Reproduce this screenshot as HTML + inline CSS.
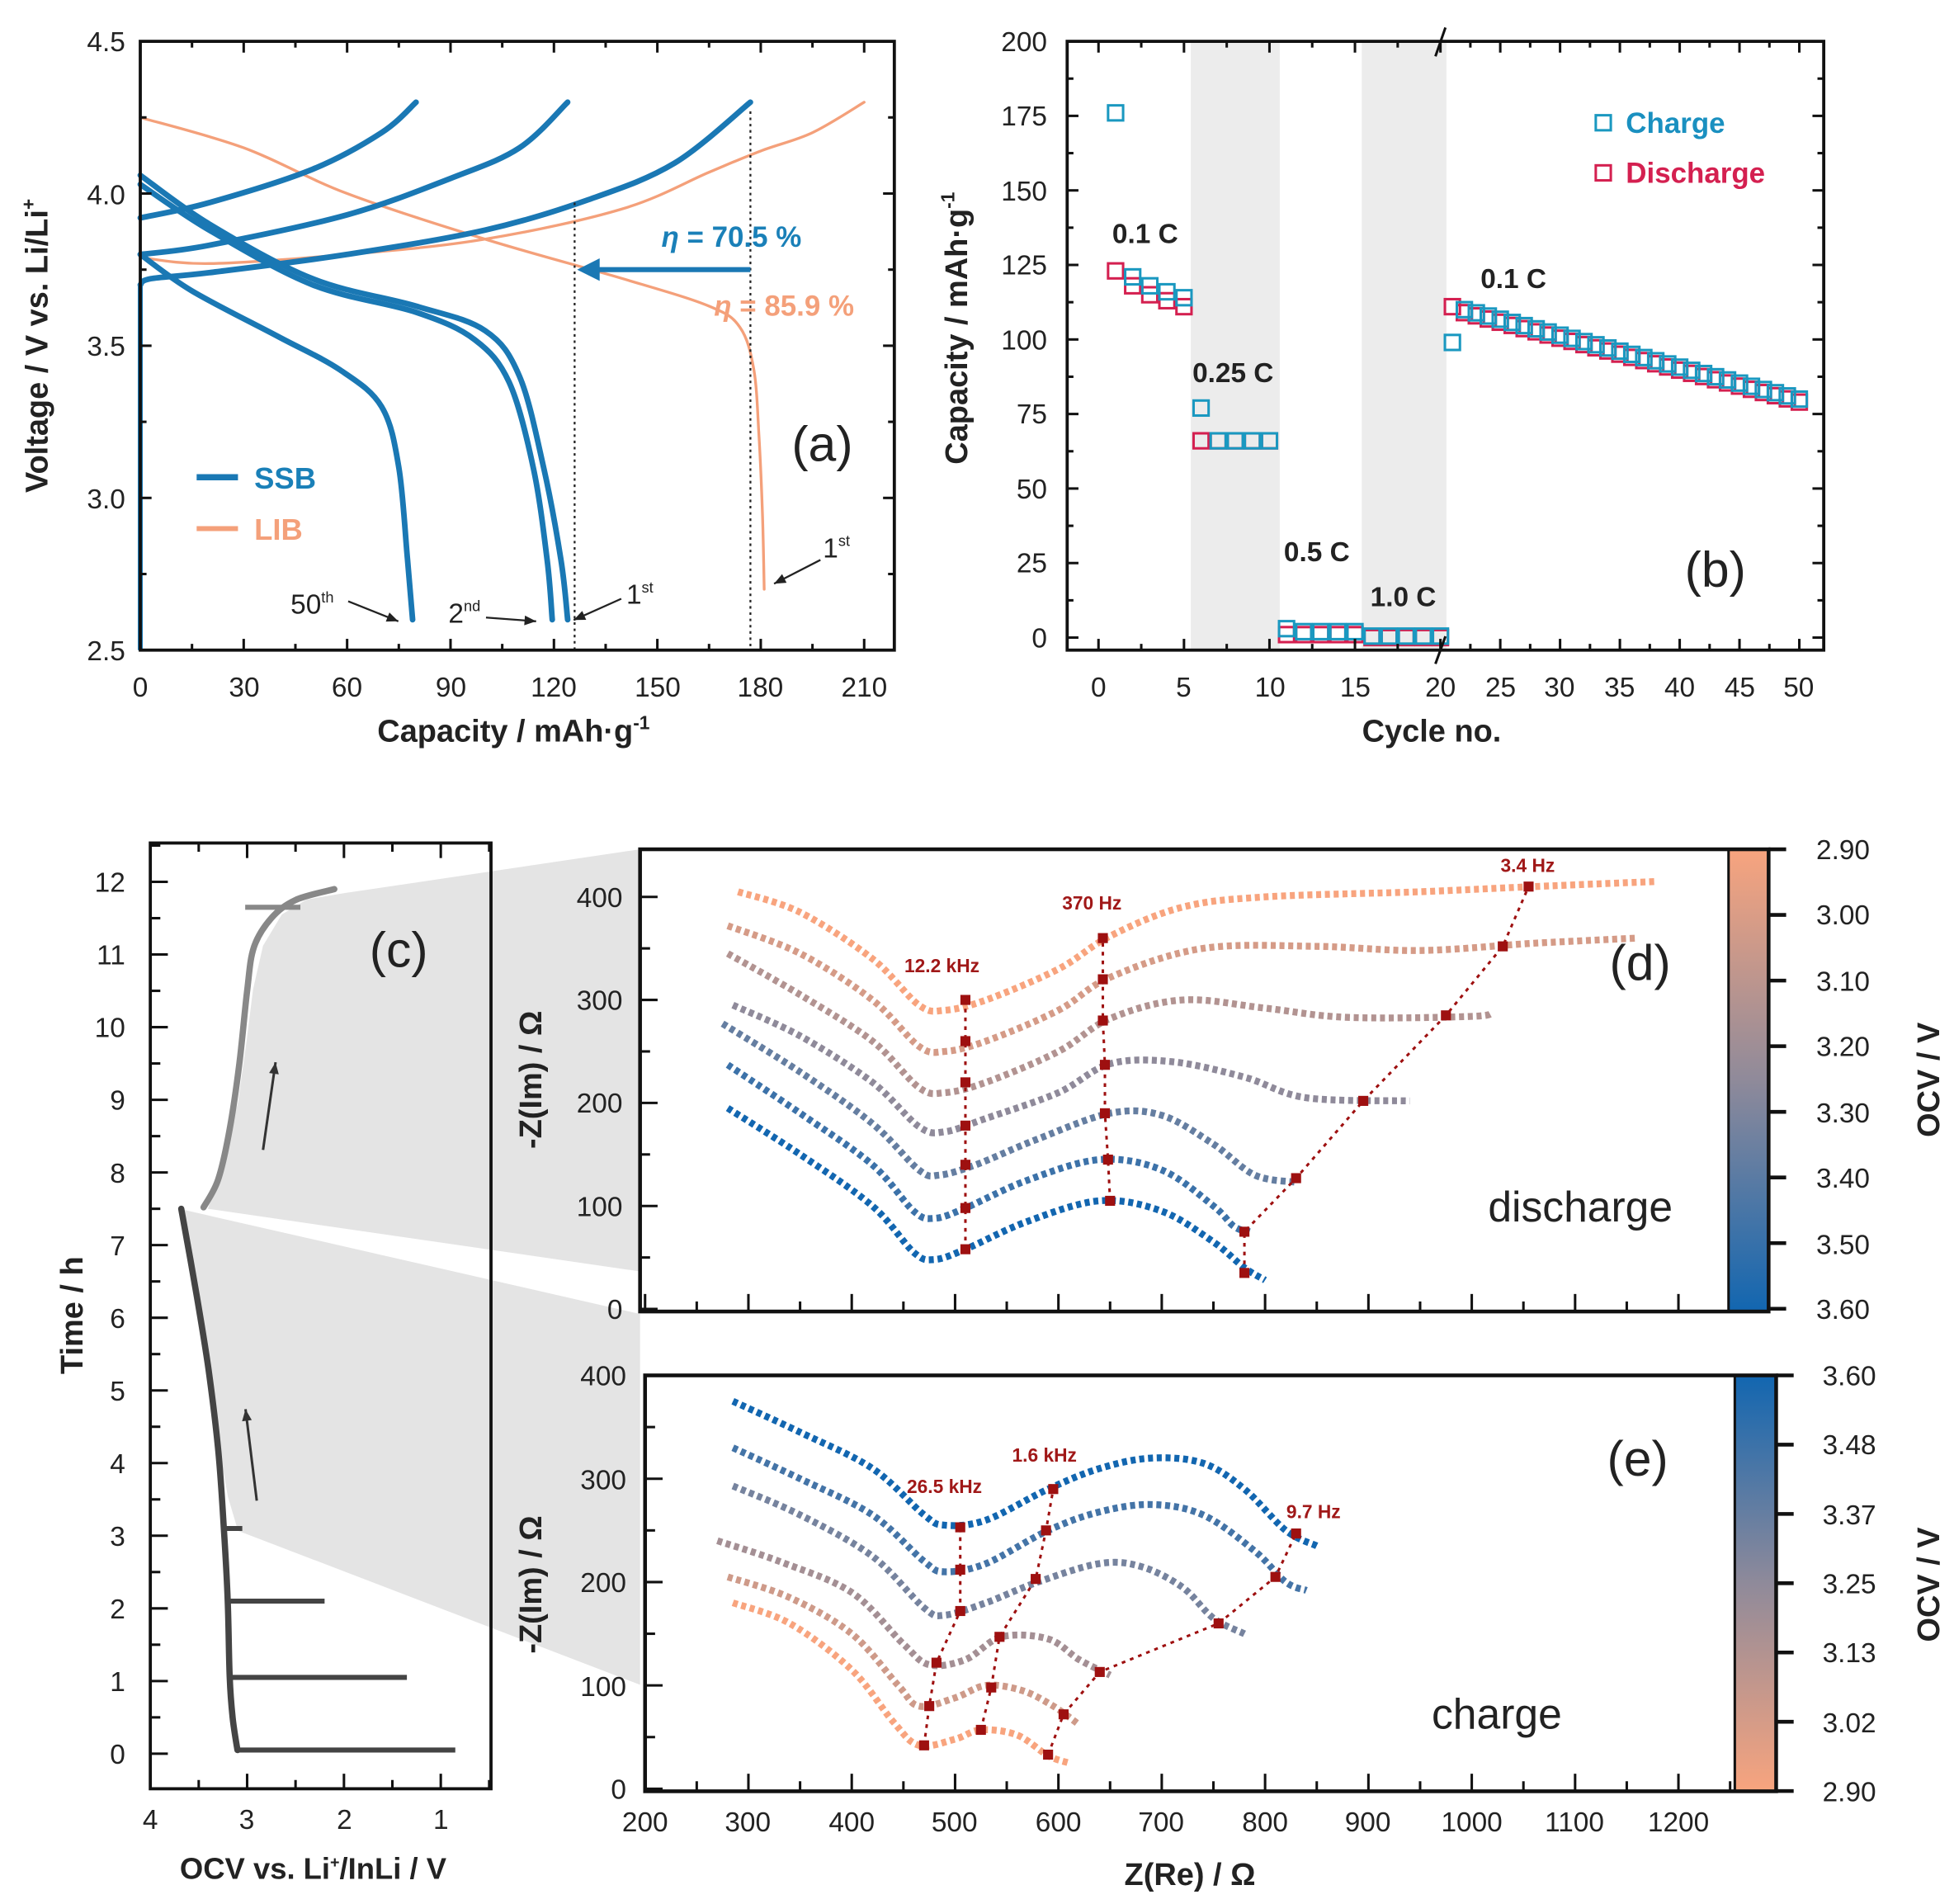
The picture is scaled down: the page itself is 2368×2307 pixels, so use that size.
<!DOCTYPE html>
<html><head><meta charset="utf-8">
<style>
html,body{margin:0;padding:0;background:#fff;}
svg{display:block;}
text{font-family:"Liberation Sans",Arial,sans-serif;}
.t{font-size:22px;fill:#222;}
.b{font-weight:bold;}
</style></head>
<body>
<svg id="s" width="2368" height="2307" viewBox="0 0 1560 1520" preserveAspectRatio="none" xmlns="http://www.w3.org/2000/svg">
<defs>
<linearGradient id="gd" x1="0" y1="0" x2="0" y2="1">
<stop offset="0" stop-color="#f8a47e"/><stop offset="0.5" stop-color="#8f8a9a"/><stop offset="1" stop-color="#1266b0"/></linearGradient>
<linearGradient id="ge" x1="0" y1="1" x2="0" y2="0">
<stop offset="0" stop-color="#f8a47e"/><stop offset="0.5" stop-color="#8f8a9a"/><stop offset="1" stop-color="#1266b0"/></linearGradient>
</defs>
<!-- shading -->
<polygon points="166,965 180,920 190,880 197,830 202,790 210,755 225,730 245,718 275,713 511,678 511,1015" fill="#e4e4e4"/>
<polygon points="143,965 152,1020 162,1080 172,1140 182,1195 190,1222 511,1345 511,1049" fill="#e4e4e4"/>
<g id="g"></g>

<!-- Panel a text -->
<g class="t" text-anchor="end">
<text x="100" y="41">4.5</text><text x="100" y="163">4.0</text><text x="100" y="284">3.5</text><text x="100" y="406">3.0</text><text x="100" y="527">2.5</text>
</g>
<g class="t" text-anchor="middle">
<text x="112" y="556">0</text><text x="195" y="556">30</text><text x="277" y="556">60</text><text x="360" y="556">90</text><text x="442" y="556">120</text><text x="525" y="556">150</text><text x="607" y="556">180</text><text x="690" y="556">210</text>
</g>
<text x="410" y="592" text-anchor="middle" class="b" font-size="25" fill="#222">Capacity  /  mAh·g<tspan font-size="15" dy="-10">-1</tspan></text>
<text transform="translate(38,276) rotate(-90)" text-anchor="middle" class="b" font-size="25" fill="#222">Voltage  /  V vs. Li/Li<tspan font-size="15" dy="-10">+</tspan></text>
<text x="528" y="197" font-size="23" class="b" fill="#1a80b8"><tspan font-style="italic">η</tspan> = 70.5 %</text>
<text x="570" y="252" font-size="23" class="b" fill="#f4a07a"><tspan font-style="italic">η</tspan> = 85.9 %</text>
<text x="632" y="368" font-size="40" fill="#222">(a)</text>
<text x="203" y="390" font-size="24" class="b" fill="#1a80b8">SSB</text>
<text x="203" y="431" font-size="24" class="b" fill="#f4a07a">LIB</text>
<text x="232" y="490" font-size="22" fill="#222">50<tspan font-size="12" dy="-9">th</tspan></text>
<text x="358" y="497" font-size="22" fill="#222">2<tspan font-size="12" dy="-9">nd</tspan></text>
<text x="500" y="482" font-size="22" fill="#222">1<tspan font-size="12" dy="-9">st</tspan></text>
<text x="657" y="445" font-size="22" fill="#222">1<tspan font-size="12" dy="-9">st</tspan></text>

<!-- Panel b text -->
<g class="t" text-anchor="end">
<text x="836" y="41">200</text><text x="836" y="100">175</text><text x="836" y="160">150</text><text x="836" y="219">125</text><text x="836" y="279">100</text><text x="836" y="338">75</text><text x="836" y="398">50</text><text x="836" y="457">25</text><text x="836" y="517">0</text>
</g>
<g class="t" text-anchor="middle">
<text x="877" y="556">0</text><text x="945" y="556">5</text><text x="1014" y="556">10</text><text x="1082" y="556">15</text><text x="1150" y="556">20</text><text x="1198" y="556">25</text><text x="1245" y="556">30</text><text x="1293" y="556">35</text><text x="1341" y="556">40</text><text x="1389" y="556">45</text><text x="1436" y="556">50</text>
</g>
<text x="1143" y="592" text-anchor="middle" class="b" font-size="25" fill="#222">Cycle no.</text>
<text transform="translate(772,262) rotate(-90)" text-anchor="middle" class="b" font-size="25" fill="#222">Capacity  /  mAh·g<tspan font-size="15" dy="-10">-1</tspan></text>
<text x="888" y="194" font-size="22" class="b" fill="#222">0.1 C</text>
<text x="952" y="305" font-size="22" class="b" fill="#222">0.25 C</text>
<text x="1025" y="448" font-size="22" class="b" fill="#222">0.5 C</text>
<text x="1094" y="484" font-size="22" class="b" fill="#222">1.0 C</text>
<text x="1182" y="230" font-size="22" class="b" fill="#222">0.1 C</text>
<text x="1298" y="106" font-size="23" class="b" fill="#1a90c0">Charge</text>
<text x="1298" y="146" font-size="23" class="b" fill="#d42050">Discharge</text>
<text x="1345" y="468" font-size="40" fill="#222">(b)</text>

<!-- Panel c text -->
<g class="t" text-anchor="end">
<text x="100" y="1408">0</text><text x="100" y="1350">1</text><text x="100" y="1292">2</text><text x="100" y="1234">3</text><text x="100" y="1176">4</text><text x="100" y="1118">5</text><text x="100" y="1060">6</text><text x="100" y="1002">7</text><text x="100" y="944">8</text><text x="100" y="886">9</text><text x="100" y="828">10</text><text x="100" y="770">11</text><text x="100" y="712">12</text>
</g>
<g class="t" text-anchor="middle">
<text x="120" y="1460">4</text><text x="197" y="1460">3</text><text x="275" y="1460">2</text><text x="352" y="1460">1</text>
</g>
<text x="250" y="1500" text-anchor="middle" class="b" font-size="24" fill="#222">OCV vs. Li<tspan font-size="13" dy="-9">+</tspan><tspan dy="9">/InLi / V</tspan></text>
<text transform="translate(66,1050) rotate(-90)" text-anchor="middle" class="b" font-size="25" fill="#222">Time  /  h</text>
<text x="295" y="772" font-size="40" fill="#222">(c)</text>

<!-- Panel d text -->
<g class="t" text-anchor="end">
<text x="497" y="724">400</text><text x="497" y="806">300</text><text x="497" y="888">200</text><text x="497" y="971">100</text><text x="497" y="1053">0</text>
</g>
<text transform="translate(432,862) rotate(-90)" text-anchor="middle" class="b" font-size="25" fill="#222">-Z(Im)  /  Ω</text>
<g class="t" text-anchor="start">
<text x="1450" y="686">2.90</text><text x="1450" y="738">3.00</text><text x="1450" y="791">3.10</text><text x="1450" y="843">3.20</text><text x="1450" y="896">3.30</text><text x="1450" y="948">3.40</text><text x="1450" y="1001">3.50</text><text x="1450" y="1053">3.60</text>
</g>
<text transform="translate(1548,862) rotate(-90)" text-anchor="middle" class="b" font-size="25" fill="#222">OCV / V</text>
<text x="1285" y="782" font-size="40" fill="#222">(d)</text>
<text x="1188" y="975" font-size="34" fill="#222">discharge</text>
<g font-size="15" class="b" fill="#a01818">
<text x="722" y="776">12.2 kHz</text><text x="848" y="726">370 Hz</text><text x="1198" y="696">3.4 Hz</text>
</g>

<!-- Panel e text -->
<g class="t" text-anchor="end">
<text x="500" y="1106">400</text><text x="500" y="1189">300</text><text x="500" y="1271">200</text><text x="500" y="1354">100</text><text x="500" y="1436">0</text>
</g>
<text transform="translate(432,1265) rotate(-90)" text-anchor="middle" class="b" font-size="25" fill="#222">-Z(Im)  /  Ω</text>
<g class="t" text-anchor="start">
<text x="1455" y="1106">3.60</text><text x="1455" y="1161">3.48</text><text x="1455" y="1217">3.37</text><text x="1455" y="1272">3.25</text><text x="1455" y="1327">3.13</text><text x="1455" y="1383">3.02</text><text x="1455" y="1438">2.90</text>
</g>
<text transform="translate(1548,1265) rotate(-90)" text-anchor="middle" class="b" font-size="25" fill="#222">OCV / V</text>
<text x="1283" y="1178" font-size="40" fill="#222">(e)</text>
<text x="1143" y="1380" font-size="34" fill="#222">charge</text>
<g font-size="15" class="b" fill="#a01818">
<text x="724" y="1192">26.5 kHz</text><text x="808" y="1167">1.6 kHz</text><text x="1027" y="1212">9.7 Hz</text>
</g>
<g class="t" text-anchor="middle">
<text x="515" y="1462">200</text><text x="597" y="1462">300</text><text x="680" y="1462">400</text><text x="762" y="1462">500</text><text x="845" y="1462">600</text><text x="927" y="1462">700</text><text x="1010" y="1462">800</text><text x="1092" y="1462">900</text><text x="1175" y="1462">1000</text><text x="1257" y="1462">1100</text><text x="1340" y="1462">1200</text>
</g>
<text x="950" y="1505" text-anchor="middle" class="b" font-size="25" fill="#222">Z(Re)  /  Ω</text>
</svg>
<script>
(function(){
var NS="http://www.w3.org/2000/svg",G=document.getElementById('g');
function el(n,a){var e=document.createElementNS(NS,n);for(var k in a)e.setAttribute(k,a[k]);G.appendChild(e);return e;}
function smooth(p){ if(p.length<3){return "M"+p.map(function(q){return q[0].toFixed(1)+","+q[1].toFixed(1)}).join("L");}
 var d="M"+p[0][0]+","+p[0][1];
 for(var i=0;i<p.length-1;i++){var p0=p[i>0?i-1:0],p1=p[i],p2=p[i+1],p3=p[i+2<p.length?i+2:i+1];
  var c1=[p1[0]+(p2[0]-p0[0])/6,p1[1]+(p2[1]-p0[1])/6],c2=[p2[0]-(p3[0]-p1[0])/6,p2[1]-(p3[1]-p1[1])/6];
  d+="C"+c1[0].toFixed(1)+","+c1[1].toFixed(1)+" "+c2[0].toFixed(1)+","+c2[1].toFixed(1)+" "+p2[0].toFixed(1)+","+p2[1].toFixed(1);}
 return d;}
function curve(pts,fx,fy,a){var p=pts.map(function(q){return [fx(q[0]),fy(q[1])]});a.d=smooth(p);a.fill="none";if(!a["stroke-linecap"])a["stroke-linecap"]="round";return el("path",a);}
// ---------- Panel a
var ax=function(c){return 112+c*2.752},ay=function(v){return 33+(4.5-v)*243};
var BL="#1a78b4",OR="#f4a07a";
curve([[0,3.79],[20,3.77],[60,3.8],[100,3.85],[140,3.95],[165,4.07],[180,4.14],[195,4.2],[210,4.3]],ax,ay,{stroke:OR,"stroke-width":2.2});
curve([[0,4.25],[30,4.15],[60,4.0],[100,3.85],[140,3.72],[165,3.63],[174,3.56],[178,3.42],[179.5,3.2],[180.5,2.95],[181,2.7]],ax,ay,{stroke:OR,"stroke-width":2.2});
el("line",{x1:ax(0),y1:ay(2.5),x2:ax(0),y2:ay(3.7),stroke:BL,"stroke-width":4});
var sw={stroke:BL,"stroke-width":4.5};
curve([[0,3.7],[3,3.72],[20,3.74],[60,3.8],[100,3.88],[130,3.98],[155,4.1],[177,4.3]],ax,ay,sw);
curve([[0,3.8],[20,3.83],[60,3.93],[90,4.05],[110,4.15],[124,4.3]],ax,ay,sw);
curve([[0,3.92],[20,3.97],[50,4.08],[70,4.2],[80,4.3]],ax,ay,sw);
curve([[0,4.06],[20,3.9],[50,3.72],[80,3.63],[100,3.55],[110,3.4],[117,3.1],[122,2.8],[124,2.6]],ax,ay,sw);
curve([[0,4.03],[20,3.88],[50,3.7],[80,3.61],[97,3.52],[107,3.38],[114,3.1],[118,2.8],[119.5,2.6]],ax,ay,sw);
curve([[0,3.8],[15,3.68],[40,3.53],[58,3.42],[70,3.3],[75,3.1],[77.5,2.8],[79,2.6]],ax,ay,sw);
el("line",{x1:ax(126),y1:ay(3.97),x2:ax(126),y2:ay(2.5),stroke:"#222","stroke-width":1.5,"stroke-dasharray":"2 3"});
el("line",{x1:ax(177),y1:ay(4.27),x2:ax(177),y2:ay(2.5),stroke:"#222","stroke-width":1.5,"stroke-dasharray":"2 3"});
el("line",{x1:ax(177),y1:ay(3.75),x2:ax(131),y2:ay(3.75),stroke:BL,"stroke-width":4});
el("polygon",{points:(ax(126)+2)+","+ay(3.75)+" "+(ax(126)+20)+","+(ay(3.75)-9)+" "+(ax(126)+20)+","+(ay(3.75)+9),fill:BL});
el("line",{x1:157,y1:381,x2:190,y2:381,stroke:BL,"stroke-width":5});
el("line",{x1:157,y1:422,x2:190,y2:422,stroke:OR,"stroke-width":4});
function arrow(x1,y1,x2,y2,c,w){el("line",{x1:x1,y1:y1,x2:x2,y2:y2,stroke:c,"stroke-width":w||1.5});var a=Math.atan2(y2-y1,x2-x1),L=10;
 el("polygon",{points:x2+","+y2+" "+(x2-L*Math.cos(a-0.4))+","+(y2-L*Math.sin(a-0.4))+" "+(x2-L*Math.cos(a+0.4))+","+(y2-L*Math.sin(a+0.4)),fill:c});}
arrow(278,480,318,496,"#222");arrow(388,493,428,496,"#222");arrow(496,478,458,495,"#222");arrow(655,447,618,466,"#222");
el("rect",{x:112,y:33,width:602,height:486,fill:"none",stroke:"#111","stroke-width":2.5});
for(var v=2.5;v<=4.51;v+=0.25){var y=ay(v),L=(Math.abs(v*2-Math.round(v*2))<0.01)?9:5;el("line",{x1:112,y1:y,x2:112+L,y2:y,stroke:"#111","stroke-width":2});el("line",{x1:714,y1:y,x2:714-L,y2:y,stroke:"#111","stroke-width":2});}
for(var c=0;c<=215;c+=15){var x=ax(c),L=(c%30==0)?9:5;el("line",{x1:x,y1:519,x2:x,y2:519-L,stroke:"#111","stroke-width":2});el("line",{x1:x,y1:33,x2:x,y2:33+L,stroke:"#111","stroke-width":2});}
// ---------- Panel b
var bx=function(c){return c<=20?877+c*13.65:1150+(c-20)*9.55},by=function(v){return 509-v*2.38};
el("rect",{x:bx(5.4),y:33,width:bx(10.6)-bx(5.4),height:486,fill:"#ececec"});
el("rect",{x:bx(15.4),y:33,width:bx(20.5)-bx(15.4),height:486,fill:"#ececec"});
var CH="#1a98c0",DC="#d42050";
function sq(x,y,c){el("rect",{x:x-6,y:y-6,width:12,height:12,fill:"none",stroke:c,"stroke-width":2});}
var D=[],C=[];
D[1]=123;C[1]=176;var v1=[0,123,119,116,114,112];for(var i=2;i<=5;i++){D[i]=v1[i]-1;C[i]=v1[i]+2;}
D[6]=66;C[6]=77;for(i=7;i<=10;i++){D[i]=66;C[i]=66;}
for(i=11;i<=15;i++){D[i]=1;C[i]=i==11?3:2;}for(i=16;i<=20;i++){D[i]=0;C[i]=0.5;}
D[21]=111;C[21]=99;for(i=22;i<=50;i++){var vv=110-(i-22)*(30/28);D[i]=vv-1;C[i]=vv;}
for(i=1;i<=50;i++)sq(bx(i),by(D[i]),DC);for(i=1;i<=50;i++)sq(bx(i),by(C[i]),CH);
sq(1280,98,CH);sq(1280,138,DC);
el("rect",{x:852,y:33,width:604,height:486,fill:"none",stroke:"#111","stroke-width":2.5});
for(var v=0;v<=200;v+=12.5){var y=by(v),L=(v%25==0)?9:5;el("line",{x1:852,y1:y,x2:852+L,y2:y,stroke:"#111","stroke-width":2});el("line",{x1:1456,y1:y,x2:1456-L,y2:y,stroke:"#111","stroke-width":2});}
for(var c=0;c<=50;c+=2.5){var x=bx(c),L=(c%5==0)?9:5;el("line",{x1:x,y1:519,x2:x,y2:519-L,stroke:"#111","stroke-width":2});el("line",{x1:x,y1:33,x2:x,y2:33+L,stroke:"#111","stroke-width":2});}
el("line",{x1:bx(20)-4,y1:45,x2:bx(20)+4,y2:22,stroke:"#111","stroke-width":2});
el("line",{x1:bx(20)-4,y1:530,x2:bx(20)+4,y2:508,stroke:"#111","stroke-width":2});
// ---------- Panel c
var cx=function(v){return 120+(4-v)*77.3},cy=function(h){return 1400-h*58};
var dk="#444",lg="#888";
curve([[3.1,0.05],[3.15,0.5],[3.18,1.05],[3.2,2.1],[3.24,3.1],[3.3,4.2],[3.4,5.3],[3.52,6.3],[3.68,7.5]],cx,cy,{stroke:dk,"stroke-width":5});
el("line",{x1:cx(3.1),y1:cy(0.05),x2:cx(0.85),y2:cy(0.05),stroke:dk,"stroke-width":4});
el("line",{x1:cx(3.18),y1:cy(1.05),x2:cx(1.35),y2:cy(1.05),stroke:dk,"stroke-width":4});
el("line",{x1:cx(3.2),y1:cy(2.1),x2:cx(2.2),y2:cy(2.1),stroke:dk,"stroke-width":4});
el("line",{x1:cx(3.25),y1:cy(3.1),x2:cx(3.05),y2:cy(3.1),stroke:dk,"stroke-width":4});
curve([[3.45,7.52],[3.3,7.9],[3.18,8.6],[3.08,9.5],[3.0,10.5],[2.93,11.1],[2.75,11.5],[2.5,11.75],[2.1,11.9]],cx,cy,{stroke:lg,"stroke-width":5});
el("line",{x1:cx(3.02),y1:cy(11.65),x2:cx(2.45),y2:cy(11.65),stroke:lg,"stroke-width":4});
arrow(205,1198,196,1125,"#333",2);arrow(210,918,220,848,"#333",2);
el("rect",{x:120,y:673,width:272,height:755,fill:"none",stroke:"#111","stroke-width":2.5});
for(var h=-0.5;h<=12.5;h+=0.5){var y=cy(h);if(y<675||y>1426)continue;var L=(h%1==0)?14:8;el("line",{x1:120,y1:y,x2:120+L,y2:y,stroke:"#111","stroke-width":2});}
for(var v=0.5;v<=4;v+=0.5){var x=cx(v);var L=(v%1==0)?12:7;el("line",{x1:x,y1:1428,x2:x,y2:1428-L,stroke:"#111","stroke-width":2});el("line",{x1:x,y1:673,x2:x,y2:673+L,stroke:"#111","stroke-width":2});}
// ---------- Panel d/e
var zx=function(z){return 515+(z-200)*0.825};
var dy=function(v){return 1045-v*0.8225},ey=function(v){return 1428-v*0.825};
function mix(t){var a=[18,102,176],m=[143,138,154],b=[248,164,126];var c=t<0.5?[a,m,t*2]:[m,b,(t-0.5)*2];var r=[0,1,2].map(function(i){return Math.round(c[0][i]+(c[1][i]-c[0][i])*c[2])});return "rgb("+r.join(",")+")";}
el("rect",{x:1380,y:678,width:32,height:369,fill:"url(#gd)"});
el("rect",{x:1385,y:1098,width:33,height:332,fill:"url(#ge)"});
var dc=[
[[280,195],[350,150],[420,100],[460,55],[480,48],[510,58],[570,85],[640,105],[700,95],[750,65],[780,40],[800,28]],
[[280,237],[350,190],[420,140],[460,95],[480,88],[510,98],[570,125],[640,145],[700,135],[750,100],[770,80],[785,75]],
[[275,277],[350,230],[420,180],[465,135],[485,130],[520,140],[580,165],[650,190],[700,188],[750,160],[790,130],[830,123]],
[[285,295],[350,265],[420,220],[465,177],[490,172],[530,185],[600,210],[650,238],[710,240],[780,225],[840,205],[940,202]],
[[280,345],[350,305],[420,260],[465,215],[490,210],[530,220],[600,250],[650,282],[720,300],[800,292],[880,283],[1000,284],[1020,288]],
[[280,372],[350,345],[420,300],[465,255],[490,250],[530,260],[600,290],[650,322],[740,350],[850,352],[950,348],[1060,355],[1160,360]],
[[290,405],[350,385],[420,340],[465,295],[490,290],[530,300],[600,330],[650,362],[720,390],[800,400],[950,405],[1060,410],[1180,415]]];
dc.forEach(function(c,i){curve(c,zx,dy,{stroke:mix(i/6),"stroke-width":5.5,"stroke-dasharray":"4 3","stroke-linecap":"butt"});});
var ec=[
[[285,375],[350,345],[420,310],[470,265],[490,255],[530,260],[590,290],[640,310],[690,320],[740,315],[780,290],[820,250],[850,235]],
[[285,330],[350,300],[420,265],[470,220],[490,210],[530,218],[590,250],[640,268],[690,275],[740,265],[790,230],[820,200],[840,192]],
[[285,293],[350,265],[420,225],[470,175],[490,168],[530,180],[580,200],[640,218],[680,215],[720,195],[750,165],[780,150]],
[[270,240],[330,220],[400,190],[450,140],[475,120],[510,125],[545,147],[590,145],[620,125],[650,110]],
[[280,205],[340,185],[400,150],[445,100],[465,80],[500,88],[530,100],[565,95],[595,80],[620,62]],
[[285,180],[340,160],[400,115],[440,65],[465,42],[500,48],[525,57],[560,52],[590,32],[610,25]]];
ec.forEach(function(c,i){curve(c,zx,ey,{stroke:mix(i/5),"stroke-width":5.5,"stroke-dasharray":"4 3","stroke-linecap":"butt"});});
var RD="#9e1010";
function mk(pts,fy){var p=pts.map(function(q){return [zx(q[0]),fy(q[1])]});
 el("polyline",{points:p.map(function(q){return q.join(",")}).join(" "),fill:"none",stroke:RD,"stroke-width":2,"stroke-dasharray":"3 4"});
 p.forEach(function(q){el("rect",{x:q[0]-4,y:q[1]-4,width:8,height:8,fill:RD});});}
mk([[510,58],[510,98],[510,140],[510,178],[510,220],[510,260],[510,300]],dy);
mk([[650,105],[648,145],[645,190],[645,237],[643,280],[643,320],[643,360]],dy);
mk([[780,35],[780,75],[830,127],[895,202],[975,285],[1030,352],[1055,410]],dy);
mk([[470,42],[475,80],[482,122],[505,172],[505,212],[505,253]],ey);
mk([[525,57],[535,98],[543,147],[578,203],[588,250],[595,290]],ey);
mk([[590,33],[605,72],[640,113],[755,160],[810,205],[830,247]],ey);
el("rect",{x:511,y:678,width:901,height:369,fill:"none",stroke:"#111","stroke-width":3});
el("line",{x1:1380,y1:678,x2:1380,y2:1047,stroke:"#111","stroke-width":2});
el("rect",{x:515,y:1098,width:903,height:332,fill:"none",stroke:"#111","stroke-width":3});
el("line",{x1:1385,y1:1098,x2:1385,y2:1430,stroke:"#111","stroke-width":2});
for(var z=200;z<=1250;z+=50){var x=zx(z);var L=(z%100==0)?14:8;if(x<1378){el("line",{x1:x,y1:1047,x2:x,y2:1047-L,stroke:"#111","stroke-width":2});}if(x<1383)el("line",{x1:x,y1:1430,x2:x,y2:1430-L,stroke:"#111","stroke-width":2});}
for(var v=0;v<=450;v+=50){var L=(v%100==0)?14:8;var y=dy(v);if(y>680)el("line",{x1:511,y1:y,x2:511+L,y2:y,stroke:"#111","stroke-width":2});y=ey(v);if(y>1100)el("line",{x1:515,y1:y,x2:515+L,y2:y,stroke:"#111","stroke-width":2});}
for(var i=0;i<8;i++){var y=678+i*52.4;el("line",{x1:1412,y1:y,x2:1426,y2:y,stroke:"#111","stroke-width":3});}
for(var i=0;i<7;i++){var y=1098+i*55.3;el("line",{x1:1418,y1:y,x2:1432,y2:y,stroke:"#111","stroke-width":3});}
})();
</script>
</body></html>
